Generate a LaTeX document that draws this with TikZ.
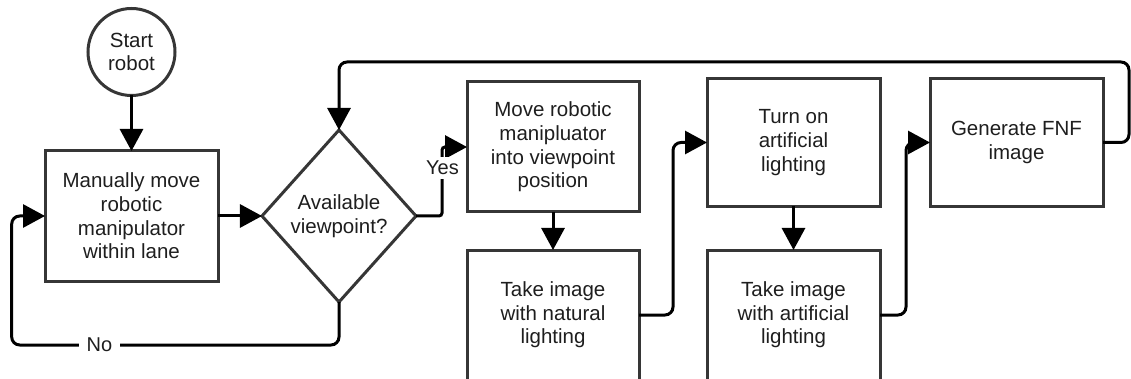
\documentclass[tikz,border=0pt]{standalone}
\usepackage{fontspec}
\setmainfont{Liberation Sans}
\usetikzlibrary{arrows.meta,shapes.geometric}
\definecolor{boxline}{HTML}{363636}
\definecolor{txt}{HTML}{1E1E1E}
\tikzset{
  base/.style={draw=boxline, line width=3pt, inner sep=0pt, outer sep=0pt,
    text=txt, align=center, font=\fontsize{20.5}{23.6}\selectfont},
  stepbox/.style={base, rectangle, minimum width=173pt},
  startnode/.style={base, circle, minimum size=87pt},
  decision/.style={base, diamond, minimum width=154pt, minimum height=172pt},
  flow/.style={line width=3pt, draw=black, rounded corners=8pt,
    -{Triangle[length=22pt,width=23pt]}},
  lbl/.style={fill=white, inner xsep=8pt, inner ysep=4pt, text=txt,
    font=\fontsize{20}{23}\selectfont}
}
\begin{document}
\begin{tikzpicture}[x=1pt,y=-1pt]
  \useasboundingbox (0,0) rectangle (1131,379);
  \clip (0,0) rectangle (1131,379);

  % process steps
  \node[startnode] (start) at (131.5,52) {Start\\robot};
  \node[stepbox, minimum height=130pt] (manual) at (131.5,216)
    {Manually move\\robotic\\manipulator\\within lane};
  \node[decision] (avail) at (339,216) {Available\\viewpoint?};
  \node[stepbox, minimum width=172pt, minimum height=130pt] (move) at (553,147)
    {Move robotic\\manipluator\\into viewpoint\\position};
  \node[stepbox, minimum width=172pt, minimum height=130pt] (natural) at (553,315)
    {Take image\\with natural\\lighting};
  \node[stepbox, minimum height=128pt] (turnon) at (793.5,142.5)
    {Turn on\\artificial\\lighting};
  \node[stepbox, minimum height=130pt] (artificial) at (793.5,315)
    {Take image\\with artificial\\lighting};
  \node[stepbox, minimum height=128pt] (fnf) at (1016.5,142.5)
    {Generate FNF\\image};

  % loop helpers
  \coordinate (loopR) at (1129,62);
  \coordinate (noL) at (11.7,345);

  % connectors
  \draw[flow] (start) -- (manual);
  \draw[flow] (manual) -- (avail);
  \draw[flow, rounded corners=3pt] (avail.east) -- ++(26,0) |- (move.west);
  \draw[flow] (move) -- (natural);
  \draw[flow] (natural.east) -- ++(34,0) |- (turnon.west);
  \draw[flow] (turnon) -- (artificial);
  \draw[flow] (artificial.east) -- ++(26,0) |- (fnf.west);
  \draw[flow] (fnf.east) -| (loopR) -| (avail.north);
  \draw[flow] (avail.south) |- (noL) |- (manual.west);

  % branch labels
  \node[lbl, inner xsep=2pt] (yes) at (442.5,168) {Yes};
  \node[lbl] (no) at (99.5,345) {No};
\end{tikzpicture}
\end{document}
